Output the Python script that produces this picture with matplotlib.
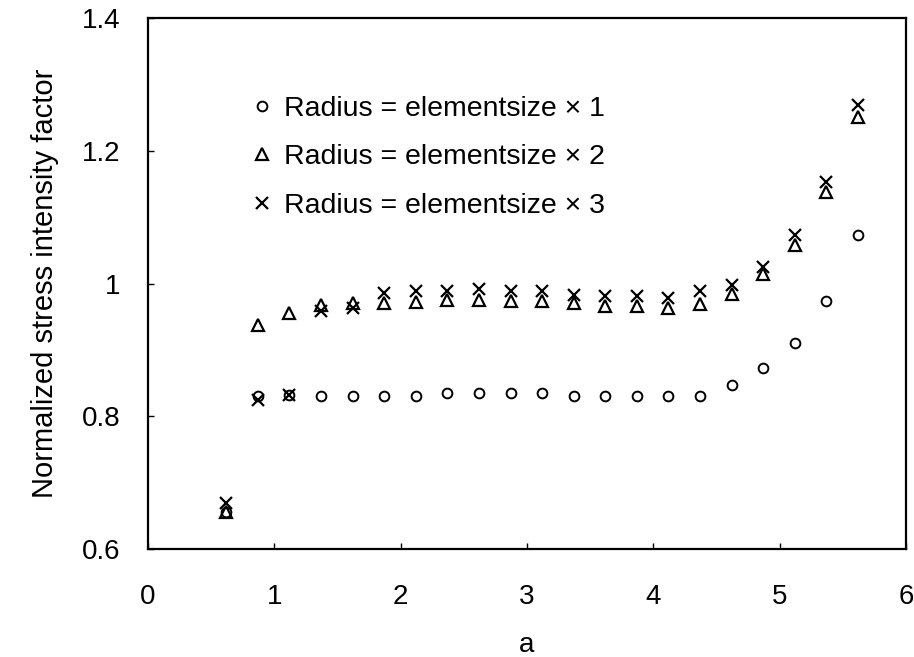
import matplotlib.pyplot as plt

# crack length a
a = [0.62, 0.87, 1.12, 1.37, 1.62, 1.87, 2.12, 2.37, 2.62, 2.87, 3.12,
     3.37, 3.62, 3.87, 4.12, 4.37, 4.62, 4.87, 5.12, 5.37, 5.62]

# normalized SIF for the three integration radii
r1 = [0.655, 0.830, 0.832, 0.831, 0.831, 0.831, 0.831, 0.835, 0.835, 0.835, 0.835,
      0.830, 0.830, 0.830, 0.830, 0.831, 0.847, 0.872, 0.910, 0.974, 1.073]
r2 = [0.655, 0.938, 0.956, 0.968, 0.970, 0.971, 0.972, 0.975, 0.975, 0.974, 0.973,
      0.970, 0.966, 0.966, 0.963, 0.969, 0.984, 1.015, 1.058, 1.138, 1.251]
r3 = [0.669, 0.825, 0.832, 0.958, 0.963, 0.985, 0.988, 0.988, 0.991, 0.988, 0.988,
      0.983, 0.981, 0.981, 0.978, 0.988, 0.997, 1.025, 1.073, 1.153, 1.269]

labels = ['Radius = elementsize \u00d7 1',
          'Radius = elementsize \u00d7 2',
          'Radius = elementsize \u00d7 3']

plt.rcParams['font.family'] = ['Liberation Sans', 'DejaVu Sans']

fig = plt.figure(figsize=(9.14, 6.57), dpi=100)
ax = fig.add_axes([148/914, 1 - 549/657, 758/914, 531/657])

ax.plot(a, r1, 'o', mfc='none', mec='black', ms=7, mew=1.4, label=labels[0])
ax.plot(a, r2, '^', mfc='none', mec='black', ms=8, mew=1.6, label=labels[1])
ax.plot(a, r3, 'x', color='black', ms=9, mew=1.6, label=labels[2])

ax.set_xlim(0, 6)
ax.set_ylim(0.6, 1.4)
ax.set_xticks([0, 1, 2, 3, 4, 5, 6])
ax.set_yticks([0.6, 0.8, 1.0, 1.2, 1.4])
ax.set_yticklabels(['0.6', '0.8', '1', '1.2', '1.4'])
ax.tick_params(direction='in', length=4, width=1, labelsize=20)
ax.tick_params(axis='x', pad=25)
ax.tick_params(axis='y', pad=20)
for s in ax.spines.values():
    s.set_linewidth(1.6)

ax.set_xlabel('a', fontsize=20, labelpad=16)
ax.set_ylabel('Normalized stress intensity factor', fontsize=21, labelpad=16)

leg = ax.legend(loc='upper left', bbox_to_anchor=(0.136, 0.854), frameon=False,
                fontsize=20.5, handlelength=0.8, handletextpad=0.34,
                labelspacing=0.8, borderaxespad=0, borderpad=0)

fig.savefig('out.png', dpi=100)
